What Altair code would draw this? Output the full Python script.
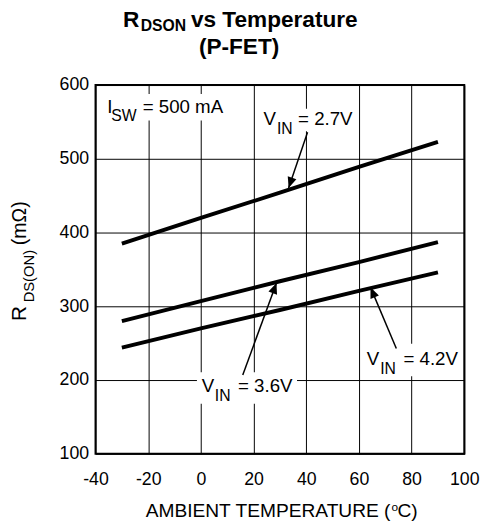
import math
import altair as alt
import pandas as pd

# ---- data ----
temps = [-30, 0, 30, 60, 90]
r_vin27 = [385, 420, 454, 489, 523]
r_vin36 = [280, 307, 334, 360, 387]
r_vin42 = [244, 270, 295, 321, 346]
series_names = ["VIN = 2.7V", "VIN = 3.6V", "VIN = 4.2V"]

x_ticks = [-40, -20, 0, 20, 40, 60, 80, 100]
y_ticks = [100, 200, 300, 400, 500, 600]

# annotation texts (anchored in data units)
ann_main_text = ["I", "= 500 mA", "V", "= 2.7V", "V", "= 3.6V", "V", "= 4.2V"]
ann_main_t = [-35.5, -22.1, 23.8, 36.9, 0.3, 14.1, 63.0, 76.9]
ann_main_r = [562.7, 562.7, 545.3, 545.3, 184, 184, 220, 220]
ann_sub_text = ["SW", "IN", "IN", "IN"]
ann_sub_t = [-34.0, 28.9, 5.3, 68.1]
ann_sub_r = [550.7, 533.7, 172, 208]

# white label backgrounds
box_t1 = [-37.4, 22.3, -1.5, 61.2]
box_t2 = [10.4, 58.2, 36.5, 97.8]
box_r1 = [588, 568, 210.7, 249.3]
box_r2 = [552, 537.3, 168, 205.3]

# arrows: start -> tip
arr_t1 = [40.5, 15.9, 74.2]
arr_r1 = [536, 207, 242.7]
arr_t2 = [33.3, 28.7, 64.4]
arr_r2 = [460.4, 331.6, 325.7]

W, H = 375, 375
X_DOM = [-40, 100]
Y_DOM = [100, 600]
FONT = "Liberation Sans"

rows = []
for name, vals in zip(series_names, [r_vin27, r_vin36, r_vin42]):
    for t, r in zip(temps, vals):
        rows.append({"series": name, "temp": t, "rds": r})
lines_df = pd.DataFrame(rows)

px_x = W / (X_DOM[1] - X_DOM[0])
px_y = H / (Y_DOM[1] - Y_DOM[0])
angles = []
for a, b, c, d in zip(arr_t1, arr_r1, arr_t2, arr_r2):
    dx = (c - a) * px_x
    dy = -(d - b) * px_y
    angles.append(math.degrees(math.atan2(dx, -dy)) % 360)

arrows_df = pd.DataFrame({"temp": arr_t1, "rds": arr_r1, "temp2": arr_t2, "rds2": arr_r2, "ang": angles})
boxes_df = pd.DataFrame({"temp": box_t1, "temp2": box_t2, "rds": box_r1, "rds2": box_r2})
main_df = pd.DataFrame({"txt": ann_main_text, "temp": ann_main_t, "rds": ann_main_r})
sub_df = pd.DataFrame({"txt": ann_sub_text, "temp": ann_sub_t, "rds": ann_sub_r})

xs = alt.Scale(domain=X_DOM, nice=False, zero=False)
ys = alt.Scale(domain=Y_DOM, nice=False, zero=False)

x_axis = alt.Axis(values=x_ticks, title=None, grid=True, ticks=False, domain=False,
                  labelFontSize=18, labelPadding=17, labelColor="black", labelFont=FONT,
                  labelFlush=False, labelOverlap=False,
                  labelExpr="replace(datum.label, '\u2212', '-')")
y_axis = alt.Axis(values=y_ticks, title=None, grid=True, ticks=False, domain=False,
                  labelFontSize=18, labelPadding=7, labelColor="black", labelFont=FONT,
                  labelFlush=False, labelOverlap=False)

lines = alt.Chart(lines_df).mark_line(color="black", strokeWidth=4, strokeCap="butt").encode(
    x=alt.X("temp:Q", scale=xs, axis=x_axis),
    y=alt.Y("rds:Q", scale=ys, axis=y_axis),
    detail="series:N",
)

boxes = alt.Chart(boxes_df).mark_rect(color="white").encode(
    x=alt.X("temp:Q", scale=xs), x2="temp2:Q",
    y=alt.Y("rds:Q", scale=ys), y2="rds2:Q",
)

arrow_lines = alt.Chart(arrows_df).mark_rule(color="black", strokeWidth=1.5).encode(
    x=alt.X("temp:Q", scale=xs), x2="temp2:Q",
    y=alt.Y("rds:Q", scale=ys), y2="rds2:Q",
)

arrow_heads = alt.Chart(arrows_df).mark_point(
    shape="M0,0L0.42,1L-0.42,1Z", filled=True, color="black", opacity=1, size=484, strokeWidth=0
).encode(
    x=alt.X("temp2:Q", scale=xs),
    y=alt.Y("rds2:Q", scale=ys),
    angle=alt.Angle("ang:Q", scale=None),
)

main_text = alt.Chart(main_df).mark_text(
    align="left", baseline="alphabetic", fontSize=19, font=FONT, color="black"
).encode(x=alt.X("temp:Q", scale=xs), y=alt.Y("rds:Q", scale=ys), text="txt:N")

sub_text = alt.Chart(sub_df).mark_text(
    align="left", baseline="alphabetic", fontSize=16, font=FONT, color="black"
).encode(x=alt.X("temp:Q", scale=xs), y=alt.Y("rds:Q", scale=ys), text="txt:N")


def label(txt, x, y, size, weight="normal", align="left", angle=0):
    kw = dict(text=txt, align=align, baseline="alphabetic", fontSize=size, font=FONT,
              fontWeight=weight, color="black")
    if angle:
        kw["angle"] = angle
    return alt.Chart(pd.DataFrame({"k": [0]})).mark_text(**kw).encode(
        x=alt.value(x), y=alt.value(y))


titles = [
    label("R", 28, -59.3, 23, "bold"),
    label("DSON", 46, -55.3, 16, "bold"),
    label("vs Temperature", 97, -59.3, 23, "bold"),
    label("(P-FET)", 146, -32, 23, "bold", align="center"),
    label("AMBIENT TEMPERATURE (", 51, 439.7, 19.5),
    label("o", 301, 433, 12),
    label("C)", 307, 439.7, 19.5),
    label("R", -71, 240, 21, angle=270),
    label("DS(ON)", -63, 221, 15, angle=270),
    label("(m\u03a9)", -71, 163, 20, angle=270),
]

chart = alt.layer(lines, boxes, arrow_lines, arrow_heads, main_text, sub_text, *titles).properties(
    width=W, height=H,
    autosize=alt.AutoSizeParams(type="none"),
    padding={"left": 89, "top": 74, "right": 17, "bottom": 65},
).configure_view(
    stroke="black", strokeWidth=2
).configure_axis(
    gridColor="black", gridOpacity=1, gridWidth=1
)

chart.save("out.html", embed_options={"renderer": "svg", "actions": False})
